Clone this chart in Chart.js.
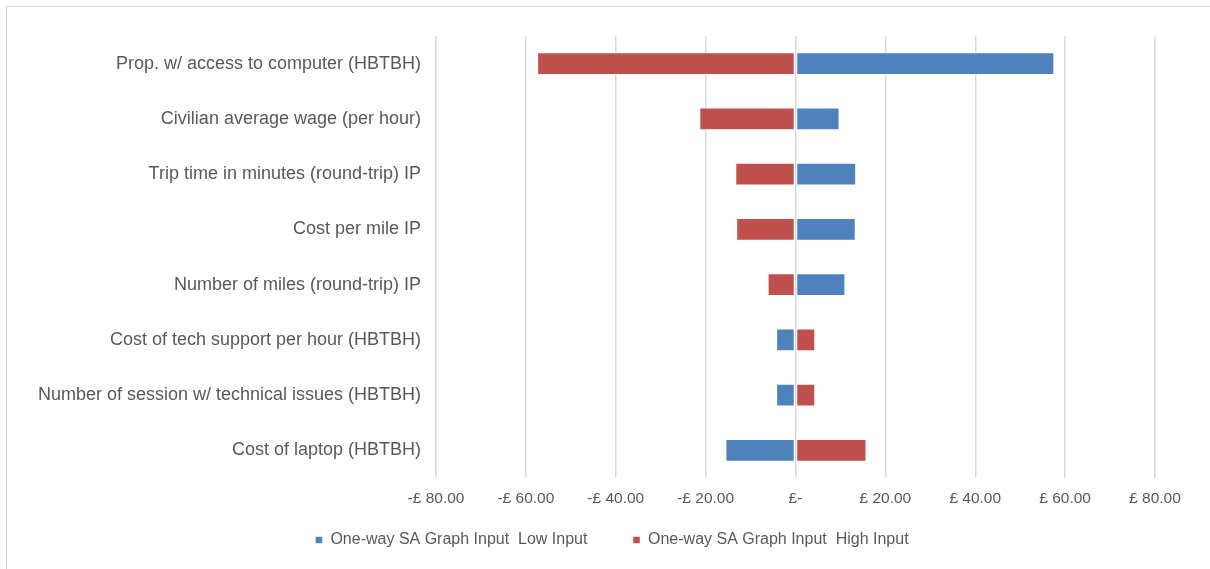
<!DOCTYPE html>
<html>
<head>
<meta charset="utf-8">
<script src="https://cdn.jsdelivr.net/npm/chart.js@4"></script>
<style>
  html, body { margin: 0; padding: 0; background: #fff; overflow: hidden; }
  #wrap { position: relative; width: 1210px; height: 569px; }
  #frame { position: absolute; left: 6px; top: 6px; width: 1300px; height: 700px; border: 1px solid #d9d9d9; }
  #myChart { position: absolute; left: 0; top: 0; }
</style>
</head>
<body>
<div id="wrap">
  <div id="frame"></div>
  <canvas id="myChart" width="1210" height="569"></canvas>
</div>
<script>
// Tornado chart data.
const categories = [
  'Prop. w/ access to computer (HBTBH)',
  'Civilian average wage (per hour)',
  'Trip time in minutes (round-trip) IP',
  'Cost per mile IP',
  'Number of miles (round-trip) IP',
  'Cost of tech support per hour (HBTBH)',
  'Number of session w/ technical issues (HBTBH)',
  'Cost of laptop (HBTBH)'
];
const lowInput = [57.6, 9.8, 13.5, 13.4, 11.1, -4.3, -4.3, -15.6];
const highInput = [-57.5, -21.4, -13.4, -13.2, -6.2, 4.4, 4.4, 15.8];
const seriesNames = ['One-way SA Graph Input  Low Input', 'One-way SA Graph Input  High Input'];
const xTicks = [-80, -60, -40, -20, 0, 20, 40, 60, 80];

// Excel style accounting labels.
function pound(v) {
  if (v === 0) return '£-';
  return (v < 0 ? '-£ ' : '£ ') + Math.abs(v).toFixed(2);
}

const ctx = document.getElementById('myChart');
const textColor = '#595959';
const fontFamily = 'Liberation Sans, Arial';

new Chart(ctx, {
  type: 'bar',
  data: {
    labels: categories,
    datasets: [{
      label: seriesNames[0],
      data: lowInput,
      backgroundColor: '#4f81bd',
      borderColor: 'rgba(255,255,255,0.5)',
      borderWidth: 1,
      borderSkipped: false
    }, {
      label: seriesNames[1],
      data: highInput,
      backgroundColor: '#c0504d',
      borderColor: 'rgba(255,255,255,0.5)',
      borderWidth: 1,
      borderSkipped: false
    }]
  },
  options: {
    indexAxis: 'y',
    responsive: false,
    animation: false,
    devicePixelRatio: 1,
    barPercentage: 0.52,
    categoryPercentage: 0.8,
    layout: { padding: { top: 36, right: 0, bottom: 11, left: 14 } },
    plugins: {
      tooltip: { enabled: false },
      legend: {
        position: 'bottom',
        labels: {
          boxWidth: 7,
          boxHeight: 7,
          padding: 10,
          color: textColor,
          font: { family: fontFamily, size: 16 },
          // wider gap between the two entries, like the Excel legend
          generateLabels: (chart) => {
            const items = Chart.defaults.plugins.legend.labels.generateLabels(chart);
            items.slice(0, -1).forEach(it => { it.text += '        '; });
            return items;
          }
        }
      }
    },
    scales: {
      x: {
        stacked: true,
        min: -80,
        max: 80,
        afterBuildTicks: (scale) => { scale.ticks = xTicks.map(v => ({ value: v })); },
        afterFit: (scale) => { scale.height = 44; },
        grid: { color: '#d9d9d9', lineWidth: 1.5, drawTicks: false },
        border: { display: false },
        ticks: {
          padding: 11,
          color: textColor,
          font: { family: fontFamily, size: 15.5 },
          callback: (v) => pound(v)
        }
      },
      y: {
        stacked: true,
        afterFit: (scale) => { scale.width = 436 - 14; },
        grid: { display: false, drawTicks: false },
        border: { display: false },
        ticks: {
          padding: 15,
          color: textColor,
          font: { family: fontFamily, size: 18 }
        }
      },
      // empty strip on the right, keeps the plot clear of the edge
      yRight: {
        type: 'linear',
        position: 'right',
        afterFit: (scale) => { scale.width = 55; },
        grid: { display: false, drawTicks: false },
        border: { display: false },
        ticks: { display: false }
      }
    }
  }
});
</script>
</body>
</html>
